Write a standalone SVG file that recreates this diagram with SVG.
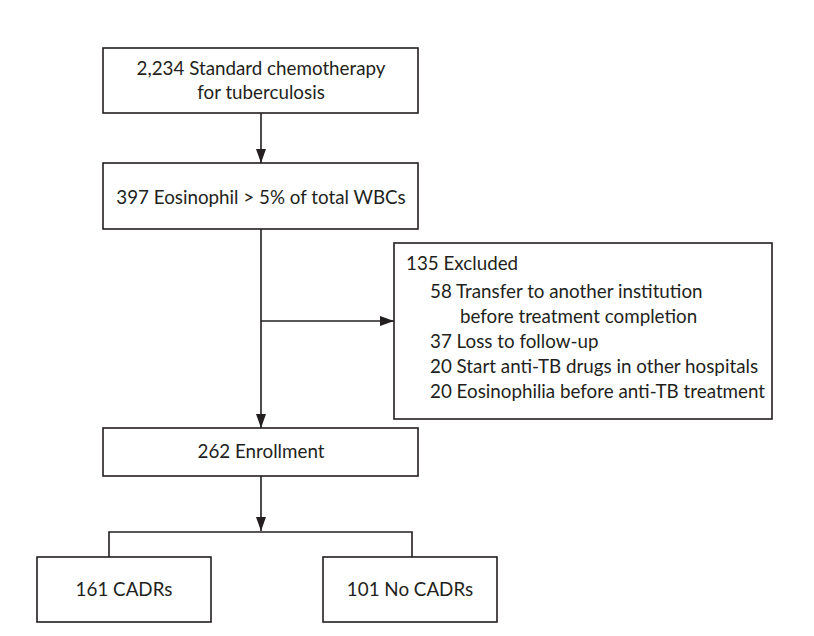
<svg xmlns="http://www.w3.org/2000/svg" width="814" height="636" viewBox="0 0 814 636">
<defs>
<marker id="ah" viewBox="0 0 14 10" refX="14" refY="5" markerWidth="14" markerHeight="10" markerUnits="userSpaceOnUse" orient="auto">
<path d="M0,0 L14,5 L0,10 Z" fill="#231f20"/>
</marker>
<style>
.box{fill:#fff;stroke:#231f20;stroke-width:1.6}
.t{font-family:Lato,"Open Sans","Liberation Sans",sans-serif;font-size:18.8px;fill:#231f20}
.c{text-anchor:middle}
.ln{fill:none;stroke:#231f20;stroke-width:1.6}
</style>
</defs>
<rect width="814" height="636" fill="#fff"/>
<g id="connectors">
<line class="ln" x1="261" y1="113" x2="261" y2="163" marker-end="url(#ah)"/>
<line class="ln" x1="261" y1="229" x2="261" y2="428" marker-end="url(#ah)"/>
<line class="ln" x1="261" y1="321" x2="394" y2="321" marker-end="url(#ah)"/>
<line class="ln" x1="261" y1="476" x2="261" y2="531" marker-end="url(#ah)"/>
<polyline class="ln" points="109,557 109,532 412,532 412,557"/>
</g>
<g id="n1">
<rect class="box" x="103" y="48" width="315" height="65"/>
<text class="t c" x="261" y="75">2,234 Standard chemotherapy</text>
<text class="t c" x="261" y="99">for tuberculosis</text>
</g>
<g id="n2">
<rect class="box" x="103" y="163" width="315" height="66"/>
<text class="t c" x="261" y="204">397 Eosinophil &gt; 5% of total WBCs</text>
</g>
<g id="n3">
<rect class="box" x="394" y="243" width="378" height="176"/>
<text class="t" x="406" y="270">135 Excluded</text>
<text class="t" x="430" y="298">58 Transfer to another institution</text>
<text class="t" x="460" y="323">before treatment completion</text>
<text class="t" x="430" y="348">37 Loss to follow-up</text>
<text class="t" x="430" y="373">20 Start anti-TB drugs in other hospitals</text>
<text class="t" x="430" y="398">20 Eosinophilia before anti-TB treatment</text>
</g>
<g id="n4">
<rect class="box" x="103" y="428" width="315" height="48"/>
<text class="t c" x="261" y="458">262 Enrollment</text>
</g>
<g id="n5">
<rect class="box" x="37" y="557" width="174" height="65"/>
<text class="t c" x="124" y="596">161 CADRs</text>
</g>
<g id="n6">
<rect class="box" x="323" y="557" width="174" height="65"/>
<text class="t c" x="410" y="596">101 No CADRs</text>
</g>
</svg>
